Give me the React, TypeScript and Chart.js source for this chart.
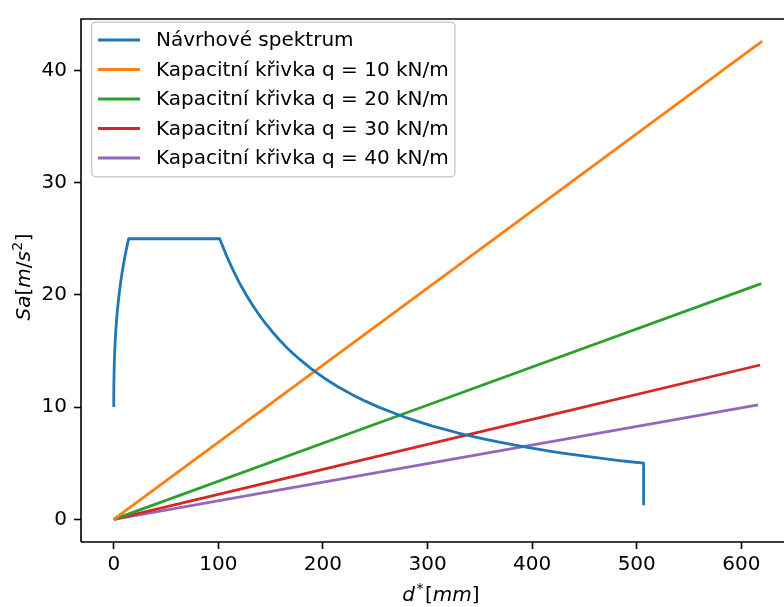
import React, { useEffect, useRef } from 'react';
import { Chart, registerables } from 'chart.js';
Chart.register(...registerables);

// Návrhové spektrum (d* [mm], Sa [m/s2])
const spectrumD = [0, 0.028, 0.122, 0.296, 0.567, 0.95, 1.459, 2.11, 2.918, 3.898, 5.066, 6.437, 8.025, 9.846, 11.916, 14.249, 101.32, 107.6, 114.0, 120.3, 126.6, 133.0, 139.3, 145.6, 152.0, 158.3, 164.6, 171.0, 177.3, 190.0, 202.6, 215.3, 228.0, 240.6, 253.3, 278.6, 304.0, 329.3, 354.6, 380.0, 405.3, 430.6, 455.9, 481.3, 506.6, 506.6, 506.6];
const spectrumSa = [10, 11, 12, 13, 14, 15, 16, 17, 18, 19, 20, 21, 22, 23, 24, 25, 25, 23.53, 22.22, 21.05, 20, 19.05, 18.18, 17.39, 16.67, 16.0, 15.38, 14.81, 14.29, 13.33, 12.5, 11.76, 11.11, 10.53, 10, 9.09, 8.33, 7.69, 7.14, 6.67, 6.25, 5.88, 5.56, 5.26, 5.0, 3.0, 1.25];

// Kapacitní křivky (straight lines from origin)
const cap10D = [0, 620];
const cap10Sa = [0, 42.6];
const cap20D = [0, 619];
const cap20Sa = [0, 21.0];
const cap30D = [0, 618];
const cap30Sa = [0, 13.75];
const cap40D = [0, 616];
const cap40Sa = [0, 10.2];

const seriesLabels = [
  'Návrhové spektrum',
  'Kapacitní křivka q = 10 kN/m',
  'Kapacitní křivka q = 20 kN/m',
  'Kapacitní křivka q = 30 kN/m',
  'Kapacitní křivka q = 40 kN/m',
];
const seriesColors = ['#1f77b4', '#ff7f0e', '#2ca02c', '#d62728', '#9467bd'];

const xTicks = [0, 100, 200, 300, 400, 500, 600];
const yTicks = [0, 10, 20, 30, 40];

const FONT = '"DejaVu Sans", sans-serif';
const FS = 20;
const LW = 2.8;

const toPts = (xs: number[], ys: number[]) => xs.map((x, i) => ({ x, y: ys[i] }));

type Part = { t: string; it?: boolean; sup?: boolean; gap?: number };

function drawRich(ctx: CanvasRenderingContext2D, parts: Part[], cx: number, baseY: number) {
  const fontOf = (p: Part) => `${p.it ? 'italic ' : ''}${p.sup ? Math.round(FS * 0.7) : FS}px ${FONT}`;
  let total = 0;
  const widths = parts.map((p) => {
    ctx.font = fontOf(p);
    const w = ctx.measureText(p.t).width + (p.gap || 0);
    total += w;
    return w;
  });
  let x = cx - total / 2;
  ctx.textAlign = 'left';
  ctx.textBaseline = 'alphabetic';
  ctx.fillStyle = '#000';
  parts.forEach((p, i) => {
    ctx.font = fontOf(p);
    ctx.fillText(p.t, x + (p.gap || 0) / 2, p.sup ? baseY - 8 : baseY);
    x += widths[i];
  });
}

const decor = {
  id: 'decor',
  afterDraw(chart: any) {
    const ctx: CanvasRenderingContext2D = chart.ctx;
    const { left, top, bottom } = chart.chartArea;
    ctx.save();
    // spines
    ctx.strokeStyle = '#000';
    ctx.lineWidth = 1.6;
    ctx.beginPath();
    ctx.moveTo(left, bottom);
    ctx.lineTo(left, top);
    ctx.lineTo(chart.width + 10, top);
    ctx.moveTo(left, bottom);
    ctx.lineTo(chart.width + 10, bottom);
    ctx.stroke();

    // axis titles
    drawRich(ctx, [
      { t: 'd', it: true },
      { t: '*', sup: true, gap: 3 },
      { t: '[' },
      { t: 'mm', it: true },
      { t: ']' },
    ], 441, 601);
    ctx.save();
    ctx.translate(23, 277);
    ctx.rotate(-Math.PI / 2);
    drawRich(ctx, [
      { t: 'Sa', it: true },
      { t: '[' },
      { t: 'm', it: true },
      { t: '/' },
      { t: 's', it: true },
      { t: '2', sup: true, gap: 1 },
      { t: ']' },
    ], 0, 7);
    ctx.restore();

    // legend
    const bx = 91.7, by = 22.3, bw = 363.3, bh = 154.4, r = 4;
    ctx.beginPath();
    ctx.moveTo(bx + r, by);
    ctx.lineTo(bx + bw - r, by);
    ctx.arcTo(bx + bw, by, bx + bw, by + r, r);
    ctx.lineTo(bx + bw, by + bh - r);
    ctx.arcTo(bx + bw, by + bh, bx + bw - r, by + bh, r);
    ctx.lineTo(bx + r, by + bh);
    ctx.arcTo(bx, by + bh, bx, by + bh - r, r);
    ctx.lineTo(bx, by + r);
    ctx.arcTo(bx, by, bx + r, by, r);
    ctx.closePath();
    ctx.fillStyle = 'rgba(255,255,255,0.8)';
    ctx.fill();
    ctx.strokeStyle = '#cccccc';
    ctx.lineWidth = 1.4;
    ctx.stroke();
    chart.data.datasets.forEach((ds: any, i: number) => {
      const y = 40 + i * 29.5;
      ctx.strokeStyle = ds.borderColor;
      ctx.lineWidth = LW;
      ctx.beginPath();
      ctx.moveTo(98, y);
      ctx.lineTo(140, y);
      ctx.stroke();
      ctx.fillStyle = '#000';
      ctx.font = `${FS}px ${FONT}`;
      ctx.textAlign = 'left';
      ctx.textBaseline = 'middle';
      ctx.fillText(ds.label, 156, y + 1);
    });
    ctx.restore();
  },
};

export default function App() {
  const ref = useRef<HTMLCanvasElement>(null);
  useEffect(() => {
    if (!ref.current) return;
    const series = [
      toPts(spectrumD, spectrumSa),
      toPts(cap10D, cap10Sa),
      toPts(cap20D, cap20Sa),
      toPts(cap30D, cap30Sa),
      toPts(cap40D, cap40Sa),
    ];
    const chart = new Chart(ref.current, {
      type: 'scatter',
      data: {
        datasets: series.map((data, i) => ({
          label: seriesLabels[i],
          data,
          showLine: true,
          borderColor: seriesColors[i],
          backgroundColor: seriesColors[i],
          borderWidth: LW,
          pointRadius: 0,
          pointHoverRadius: 0,
          // tiny tension disables Chart.js' fast path (which merges same-pixel points)
          tension: 0.0001,
          borderJoinStyle: 'round' as const,
          borderCapStyle: 'butt' as const,
        })),
      },
      options: {
        animation: false,
        responsive: false,
        devicePixelRatio: 1,
        layout: { padding: { top: 12, right: 0, bottom: 0, left: 0 } },
        plugins: { legend: { display: false }, tooltip: { enabled: false } },
        scales: {
          x: {
            type: 'linear',
            min: -31.3,
            max: 640.8,
            afterBuildTicks: (s: any) => { s.ticks = xTicks.map((v) => ({ value: v })); },
            afterFit: (s: any) => { s.height = 65; },
            grid: { display: true, drawOnChartArea: false, drawTicks: true, tickLength: 7, tickColor: '#000', tickWidth: 1.6 },
            border: { display: false },
            ticks: { color: '#000', font: { family: FONT, size: FS }, padding: 4, maxRotation: 0, autoSkip: false },
          },
          y: {
            type: 'linear',
            min: -2.02,
            max: 44.58,
            afterBuildTicks: (s: any) => { s.ticks = yTicks.map((v) => ({ value: v })); },
            afterFit: (s: any) => { s.width = 81; },
            grid: { display: true, drawOnChartArea: false, drawTicks: true, tickLength: 7, tickColor: '#000', tickWidth: 1.6 },
            border: { display: false },
            ticks: { color: '#000', font: { family: FONT, size: FS }, padding: 7, autoSkip: false },
          },
        },
      },
      plugins: [decor],
    });
    return () => chart.destroy();
  }, []);
  return (
    <div style={{ position: 'absolute', left: 0, top: 0, width: 784, height: 607, background: '#fff' }}>
      <canvas ref={ref} width={784} height={607} style={{ width: 784, height: 607, display: 'block' }} />
    </div>
  );
}
